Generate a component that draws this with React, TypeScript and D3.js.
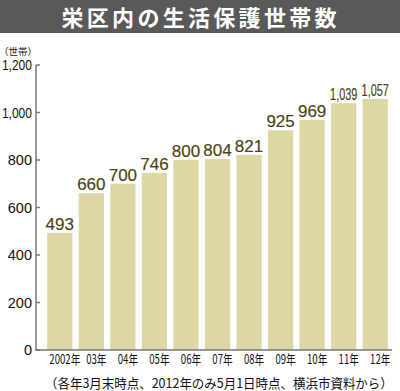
import React from "react";
import * as d3 from "d3";

const years = ["2002年", "03年", "04年", "05年", "06年", "07年", "08年", "09年", "10年", "11年", "12年"];
const households = [493, 660, 700, 746, 800, 804, 821, 925, 969, 1039, 1057];
const yTicks = [0, 200, 400, 600, 800, 1000, 1200];

const title = "栄区内の生活保護世帯数";
const unitLabel = "（世帯）";
const note = "（各年3月末時点、2012年のみ5月1日時点、横浜市資料から）";

const W = 400;
const H = 391;
const NUM_FONT = "'Liberation Sans', Arial, sans-serif";
const JP_FONT = "'Noto Sans CJK JP', sans-serif";

const App = () => {
  const x = d3.scaleBand<string>().domain(years).range([44, 391]).paddingInner(0.2).paddingOuter(0.1);
  const y = d3.scaleLinear().domain([0, 1200]).range([350, 65]);
  const fmt = d3.format(",");

  return (
    <svg width={W} height={H} style={{ display: "block", position: "absolute", left: 0, top: 0 }}>
      <rect x={0} y={0} width={W} height={H} fill="#fff" />
      {/* title banner */}
      <rect x={0} y={0} width={W} height={33} fill="#595959" />
      <text x={61.5} y={26} fill="#fff" fontFamily={JP_FONT} fontWeight="bold" fontSize={22} letterSpacing={3.3}>
        {title}
      </text>

      <text x={-1} y={54.5} fontFamily={JP_FONT} fontSize={9.5} fill="#222">
        {unitLabel}
      </text>

      {/* bars */}
      {households.map((v, i) => (
        <rect key={years[i]} x={x(years[i])} y={y(v)} width={x.bandwidth()} height={y(0) - y(v)} fill="#dcd7a5" />
      ))}

      {/* value labels; 4-digit ones squeezed to fit the bar */}
      {households.map((v, i) => (
        <g
          key={"v" + years[i]}
          transform={`translate(${(x(years[i]) as number) + x.bandwidth() / 2},${y(v) - 3}) scale(${v >= 1000 ? 0.64 : 1},1)`}
        >
          <text
            x={0}
            y={0}
            textAnchor="middle"
            fontFamily={NUM_FONT}
            fontSize={17}
            fill="#4a4310"
            stroke="#4a4310"
            strokeWidth={0.15}
          >
            {fmt(v)}
          </text>
        </g>
      ))}

      {/* axes */}
      <line x1={36} x2={36} y1={y(1200)} y2={y(0)} stroke="#777" strokeWidth={1.5} />
      <line x1={35.25} x2={392} y1={y(0)} y2={y(0)} stroke="#777" strokeWidth={1.5} />
      {yTicks.map((t) => (
        <g key={t}>
          <line x1={36} x2={40} y1={y(t)} y2={y(t)} stroke="#777" strokeWidth={1.5} />
          <g transform={`translate(32,${y(t) + 5}) scale(${t >= 1000 ? 0.83 : 1},1)`}>
            <text x={0} y={0} textAnchor="end" fontFamily={NUM_FONT} fontSize={14.5} fill="#111">
              {fmt(t)}
            </text>
          </g>
        </g>
      ))}

      {/* x labels */}
      {years.map((yr) => (
        <g key={"x" + yr} transform={`translate(${(x(yr) as number) + x.bandwidth() / 2 + 5},364) scale(0.74,1)`}>
          <text x={0} y={0} textAnchor="middle" fontFamily={JP_FONT} fontSize={13} fill="#111">
            {yr}
          </text>
        </g>
      ))}

      <g transform="translate(45,388) scale(0.96,1)">
        <text x={0} y={0} fontFamily={JP_FONT} fontSize={13} fill="#111">
          {note}
        </text>
      </g>
    </svg>
  );
};

export default App;
